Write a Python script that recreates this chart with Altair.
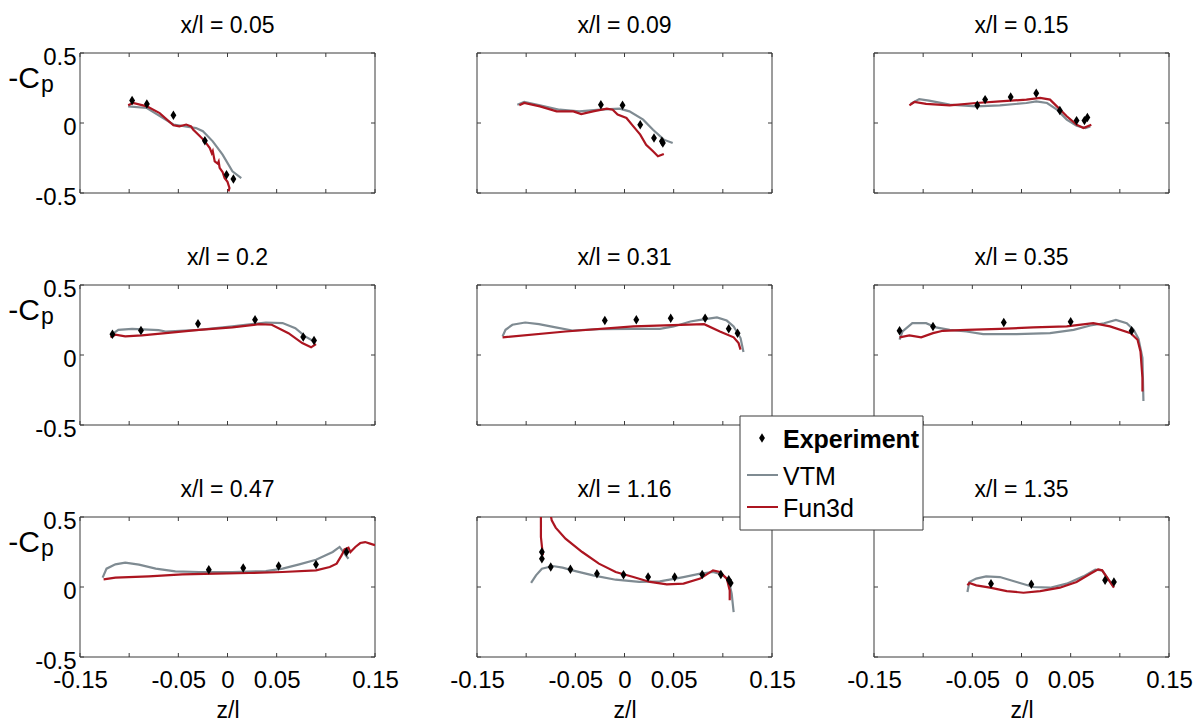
import altair as alt
import pandas as pd

FONT = "Liberation Sans"
RED = "#ac1520"
GREY = "#7f8b92"
FRAME = "#3a3a3a"
W, H = 295, 140

titles = ["x/l = 0.05", "x/l = 0.09", "x/l = 0.15",
          "x/l = 0.2", "x/l = 0.31", "x/l = 0.35",
          "x/l = 0.47", "x/l = 1.16", "x/l = 1.35"]
tick_z = [-0.15, -0.1, -0.05, 0, 0.05, 0.1, 0.15]
tick_cp = [-0.5, 0, 0.5]
legend_labels = ["Experiment", "VTM", "Fun3d"]

# ---- x/l = 0.05
p1_exp_z = [-0.097, -0.082, -0.055, -0.023, -0.001, 0.006]
p1_exp_cp = [0.16, 0.136, 0.055, -0.126, -0.369, -0.40]
p1_vtm_z = [-0.101, -0.082, -0.055, -0.032, -0.025, -0.015, -0.005, 0.005, 0.014]
p1_vtm_cp = [0.119, 0.107, -0.011, -0.036, -0.059, -0.131, -0.226, -0.345, -0.393]
p1_fun_z = [-0.101, -0.096, -0.082, -0.069, -0.055, -0.049, -0.042, -0.037, -0.035, -0.028,
            -0.023, -0.018, -0.016, -0.015, -0.013, -0.010, -0.009, -0.008, -0.005, -0.003,
            0.000, 0.002, 0.001]
p1_fun_cp = [0.126, 0.143, 0.119, 0.071, -0.016, -0.024, -0.011, -0.024, -0.047, -0.095,
             -0.131, -0.179, -0.215, -0.200, -0.274, -0.290, -0.275, -0.321, -0.350, -0.393,
             -0.420, -0.464, -0.488]

# ---- x/l = 0.09
p2_exp_z = [-0.024, -0.002, 0.016, 0.030, 0.038, 0.039]
p2_exp_cp = [0.131, 0.126, -0.012, -0.107, -0.131, -0.143]
p2_vtm_z = [-0.109, -0.102, -0.086, -0.066, -0.046, -0.025, -0.005, 0.005, 0.019, 0.029, 0.040, 0.049]
p2_vtm_cp = [0.131, 0.150, 0.126, 0.095, 0.083, 0.095, 0.102, 0.083, 0.024, -0.048, -0.119, -0.143]
p2_fun_z = [-0.107, -0.102, -0.086, -0.069, -0.052, -0.044, -0.032, -0.018, -0.012, -0.007,
            0.002, 0.009, 0.016, 0.022, 0.029, 0.034, 0.040]
p2_fun_cp = [0.126, 0.143, 0.119, 0.083, 0.083, 0.064, 0.083, 0.102, 0.095, 0.060,
             0.036, -0.024, -0.083, -0.155, -0.202, -0.238, -0.221]

# ---- x/l = 0.15
p3_exp_z = [-0.045, -0.037, -0.011, 0.015, 0.039, 0.056, 0.064, 0.067]
p3_exp_cp = [0.126, 0.167, 0.186, 0.212, 0.090, 0.017, 0.017, 0.040]
p3_vtm_z = [-0.113, -0.104, -0.094, -0.073, -0.046, -0.022, 0.005, 0.015, 0.026, 0.036, 0.046, 0.056, 0.065, 0.070]
p3_vtm_cp = [0.136, 0.171, 0.160, 0.131, 0.119, 0.126, 0.143, 0.155, 0.143, 0.095, 0.024, -0.019, -0.036, -0.024]
p3_fun_z = [-0.114, -0.109, -0.097, -0.073, -0.046, -0.022, 0.005, 0.019, 0.029, 0.036, 0.046, 0.056, 0.063, 0.071]
p3_fun_cp = [0.126, 0.150, 0.136, 0.126, 0.143, 0.155, 0.167, 0.179, 0.167, 0.119, 0.048, -0.012, -0.036, -0.012]

# ---- x/l = 0.2
p4_exp_z = [-0.117, -0.088, -0.030, 0.028, 0.077, 0.088]
p4_exp_cp = [0.149, 0.175, 0.223, 0.251, 0.128, 0.104]
p4_vtm_z = [-0.119, -0.111, -0.097, -0.070, -0.063, -0.029, 0.005, 0.039, 0.056, 0.069, 0.079, 0.088]
p4_vtm_cp = [0.140, 0.180, 0.187, 0.178, 0.168, 0.180, 0.204, 0.232, 0.228, 0.192, 0.133, 0.097]
p4_fun_z = [-0.119, -0.114, -0.104, -0.087, -0.063, -0.029, 0.005, 0.032, 0.045, 0.062, 0.076, 0.085, 0.090]
p4_fun_cp = [0.126, 0.145, 0.133, 0.140, 0.156, 0.180, 0.197, 0.220, 0.216, 0.156, 0.085, 0.055, 0.078]

# ---- x/l = 0.31
p5_exp_z = [-0.020, 0.012, 0.047, 0.082, 0.106, 0.115]
p5_exp_cp = [0.246, 0.251, 0.263, 0.263, 0.187, 0.156]
p5_vtm_z = [-0.124, -0.121, -0.114, -0.101, -0.087, -0.070, -0.053, -0.026, 0.009, 0.036, 0.050,
            0.067, 0.077, 0.094, 0.104, 0.111, 0.118, 0.121]
p5_vtm_cp = [0.133, 0.180, 0.216, 0.232, 0.220, 0.197, 0.175, 0.185, 0.187, 0.187, 0.204,
             0.239, 0.251, 0.268, 0.246, 0.204, 0.121, 0.021]
p5_fun_z = [-0.124, -0.060, 0.009, 0.081, 0.097, 0.111, 0.116, 0.118]
p5_fun_cp = [0.126, 0.168, 0.204, 0.220, 0.168, 0.126, 0.085, 0.038]

# ---- x/l = 0.35
p6_exp_z = [-0.124, -0.090, -0.018, 0.050, 0.112]
p6_exp_cp = [0.173, 0.204, 0.232, 0.237, 0.173]
p6_vtm_z = [-0.124, -0.121, -0.111, -0.097, -0.087, -0.073, -0.056, -0.039, -0.005, 0.029, 0.053,
            0.070, 0.084, 0.096, 0.107, 0.114, 0.119, 0.123, 0.124]
p6_vtm_cp = [0.109, 0.168, 0.227, 0.227, 0.197, 0.180, 0.168, 0.149, 0.149, 0.156, 0.180,
             0.211, 0.227, 0.251, 0.227, 0.180, 0.116, -0.021, -0.329]
p6_fun_z = [-0.124, -0.114, -0.102, -0.090, -0.080, -0.056, -0.022, 0.012, 0.046, 0.073, 0.090,
            0.111, 0.118, 0.121, 0.123, 0.123]
p6_fun_cp = [0.126, 0.140, 0.126, 0.156, 0.173, 0.180, 0.187, 0.197, 0.204, 0.227, 0.204,
             0.156, 0.109, 0.026, -0.164, -0.26]

# ---- x/l = 0.47
p7_exp_z = [-0.019, 0.016, 0.052, 0.090, 0.121]
p7_exp_cp = [0.124, 0.136, 0.150, 0.160, 0.25]
p7_vtm_z = [-0.127, -0.123, -0.114, -0.104, -0.090, -0.073, -0.053, -0.029, 0.005, 0.039, 0.056,
            0.073, 0.090, 0.107, 0.114, 0.119, 0.123]
p7_vtm_cp = [0.067, 0.131, 0.162, 0.174, 0.160, 0.131, 0.112, 0.107, 0.107, 0.114, 0.131,
             0.162, 0.195, 0.25, 0.286, 0.238, 0.202]
p7_fun_z = [-0.126, -0.114, -0.080, -0.046, -0.012, 0.022, 0.056, 0.090, 0.104, 0.111, 0.116,
            0.119, 0.123, 0.125, 0.130, 0.135, 0.140, 0.145, 0.150]
p7_fun_cp = [0.055, 0.067, 0.076, 0.090, 0.095, 0.100, 0.107, 0.119, 0.143, 0.167, 0.226,
             0.269, 0.281, 0.250, 0.286, 0.314, 0.321, 0.310, 0.298]

# ---- x/l = 1.16
p8_exp_z = [-0.084, -0.084, -0.075, -0.055, -0.028, -0.001, 0.024, 0.051, 0.079, 0.098, 0.106, 0.108]
p8_exp_cp = [0.25, 0.202, 0.143, 0.126, 0.095, 0.088, 0.071, 0.071, 0.090, 0.090, 0.052, 0.029]
p8_vtm_z = [-0.095, -0.090, -0.084, -0.073, -0.063, -0.053, -0.032, -0.009, 0.015, 0.036, 0.060,
            0.077, 0.090, 0.099, 0.106, 0.109, 0.111]
p8_vtm_cp = [0.029, 0.083, 0.131, 0.150, 0.138, 0.119, 0.083, 0.052, 0.036, 0.040, 0.071,
             0.095, 0.107, 0.090, 0.048, -0.048, -0.179]
p8_fun_z = [-0.083, -0.085, -0.085, -0.085, -0.080, -0.076, -0.074, -0.070, -0.060, -0.043, -0.026,
            -0.009, 0.009, 0.026, 0.043, 0.060, 0.077, 0.090, 0.097, 0.104, 0.107, 0.107]
p8_fun_cp = [0.226, 0.357, 0.524, 0.62, 0.62, 0.548, 0.476, 0.424, 0.345, 0.25, 0.167,
             0.107, 0.071, 0.036, 0.019, 0.024, 0.060, 0.119, 0.107, 0.060, -0.024, -0.095]

# ---- x/l = 1.35
p9_exp_z = [-0.031, 0.010, 0.085, 0.094]
p9_exp_cp = [0.024, 0.019, 0.048, 0.036]
p9_vtm_z = [-0.055, -0.053, -0.046, -0.036, -0.022, -0.005, 0.012, 0.029, 0.046, 0.063, 0.075, 0.082, 0.089, 0.094]
p9_vtm_cp = [-0.036, 0.036, 0.060, 0.076, 0.071, 0.036, 0.0, -0.005, 0.024, 0.076, 0.124, 0.119, 0.048, 0.0]
p9_fun_z = [-0.055, -0.053, -0.046, -0.032, -0.015, 0.002, 0.019, 0.039, 0.056, 0.070, 0.078, 0.082, 0.089, 0.094]
p9_fun_cp = [0.012, 0.029, 0.012, -0.005, -0.029, -0.041, -0.029, -0.005, 0.036, 0.095, 0.126, 0.119, 0.048, -0.005]

panels_data = [
    (p1_exp_z, p1_exp_cp, p1_vtm_z, p1_vtm_cp, p1_fun_z, p1_fun_cp),
    (p2_exp_z, p2_exp_cp, p2_vtm_z, p2_vtm_cp, p2_fun_z, p2_fun_cp),
    (p3_exp_z, p3_exp_cp, p3_vtm_z, p3_vtm_cp, p3_fun_z, p3_fun_cp),
    (p4_exp_z, p4_exp_cp, p4_vtm_z, p4_vtm_cp, p4_fun_z, p4_fun_cp),
    (p5_exp_z, p5_exp_cp, p5_vtm_z, p5_vtm_cp, p5_fun_z, p5_fun_cp),
    (p6_exp_z, p6_exp_cp, p6_vtm_z, p6_vtm_cp, p6_fun_z, p6_fun_cp),
    (p7_exp_z, p7_exp_cp, p7_vtm_z, p7_vtm_cp, p7_fun_z, p7_fun_cp),
    (p8_exp_z, p8_exp_cp, p8_vtm_z, p8_vtm_cp, p8_fun_z, p8_fun_cp),
    (p9_exp_z, p9_exp_cp, p9_vtm_z, p9_vtm_cp, p9_fun_z, p9_fun_cp),
]

DIAMOND = "M0,-1L0.62,0L0,1L-0.62,0Z"
ONE = pd.DataFrame({"a": [0]})


def df(z, cp):
    return pd.DataFrame({"z": z, "cp": cp, "i": list(range(len(z)))})


def panel(k):
    row, col = divmod(k, 3)
    ez, ecp, vz, vcp, fz, fcp = panels_data[k]
    xs = alt.Scale(domain=[-0.15, 0.15], nice=False, zero=False)
    ys = alt.Scale(domain=[-0.5, 0.5], nice=False, zero=False)
    if row == 2:
        xaxis = alt.Axis(
            values=tick_z, ticks=False, domain=False, grid=False,
            labelExpr="abs(datum.value) > 0.09 && abs(datum.value) < 0.11 ? '' : "
                      "(datum.value < -0.001 ? '-' : '') + format(abs(datum.value), '.2~f')",
            labelFontSize=24, labelFont=FONT, labelColor="black", labelPadding=11,
            labelFlush=False, labelOverlap=False, labelBound=False,
            title="z/l", titleFontSize=23, titleFont=FONT, titleFontWeight="normal",
            titleColor="black", titlePadding=7)
    else:
        xaxis = None
    if col == 0:
        yaxis = alt.Axis(
            values=tick_cp, ticks=False, domain=False, grid=False,
            labelExpr="(datum.value < -0.001 ? '-' : '') + format(abs(datum.value), '.1~f')",
            labelFontSize=24, labelFont=FONT, labelColor="black", labelPadding=4,
            labelFlush=False, labelOverlap=False, labelBound=False, labelOffset=4,
            title=None)
    else:
        yaxis = None

    def X(f="z"):
        return alt.X(f"{f}:Q", scale=xs, axis=xaxis)

    def Y(f="cp"):
        return alt.Y(f"{f}:Q", scale=ys, axis=yaxis)

    frame = alt.Chart(ONE).mark_rect(fillOpacity=0, stroke=FRAME, strokeWidth=1).encode(
        x=alt.value(0), x2=alt.value(W), y=alt.value(0), y2=alt.value(H))
    tz = pd.DataFrame({"z": tick_z})
    tc = pd.DataFrame({"cp": tick_cp})
    xt_bot = alt.Chart(tz).mark_rule(color=FRAME, strokeWidth=1).encode(
        x=X(), y=alt.value(H), y2=alt.value(H - 4))
    xt_top = alt.Chart(tz).mark_rule(color=FRAME, strokeWidth=1).encode(
        x=X(), y=alt.value(0), y2=alt.value(4))
    yt_l = alt.Chart(tc).mark_rule(color=FRAME, strokeWidth=1).encode(
        y=Y(), x=alt.value(0), x2=alt.value(4))
    yt_r = alt.Chart(tc).mark_rule(color=FRAME, strokeWidth=1).encode(
        y=Y(), x=alt.value(W), x2=alt.value(W - 4))

    vtm = alt.Chart(df(vz, vcp)).mark_line(color=GREY, strokeWidth=2.2, clip=True).encode(
        x=X(), y=Y(), order="i:Q")
    fun = alt.Chart(df(fz, fcp)).mark_line(color=RED, strokeWidth=2.2, clip=True).encode(
        x=X(), y=Y(), order="i:Q")
    exp = alt.Chart(df(ez, ecp)).mark_point(
        shape=DIAMOND, filled=True, color="black", size=90, opacity=1, clip=True).encode(
        x=X(), y=Y())

    title = alt.Chart(ONE).mark_text(
        text=titles[k], fontSize=23, font=FONT, align="center", baseline="alphabetic",
        color="black").encode(x=alt.value(W / 2), y=alt.value(-20))

    layers = [frame, xt_bot, xt_top, yt_l, yt_r, vtm, fun, exp, title]

    if col == 0:
        layers.append(alt.Chart(ONE).mark_text(
            text="-C", fontSize=30, font=FONT, align="right", baseline="alphabetic",
            color="black").encode(x=alt.value(-40), y=alt.value(35)))
        layers.append(alt.Chart(ONE).mark_text(
            text="p", fontSize=23, font=FONT, align="left", baseline="alphabetic",
            color="black").encode(x=alt.value(-39), y=alt.value(39)))

    if k == 8:
        layers.append(alt.Chart(ONE).mark_rect(fill="white", stroke=FRAME, strokeWidth=1).encode(
            x=alt.value(-134), x2=alt.value(49), y=alt.value(-101), y2=alt.value(13)))
        layers.append(alt.Chart(ONE).mark_point(
            shape=DIAMOND, filled=True, color="black", size=90, opacity=1).encode(
            x=alt.value(-112), y=alt.value(-79)))
        layers.append(alt.Chart(ONE).mark_rule(color=GREY, strokeWidth=2).encode(
            x=alt.value(-127), x2=alt.value(-96), y=alt.value(-42)))
        layers.append(alt.Chart(ONE).mark_rule(color=RED, strokeWidth=2).encode(
            x=alt.value(-127), x2=alt.value(-96), y=alt.value(-10)))
        for lab, yy, wt in [(legend_labels[0], -77, "bold"),
                            (legend_labels[1], -40, "normal"),
                            (legend_labels[2], -8, "normal")]:
            layers.append(alt.Chart(ONE).mark_text(
                text=lab, fontSize=25, font=FONT, fontWeight=wt, align="left",
                baseline="middle", color="black").encode(x=alt.value(-91), y=alt.value(yy)))

    return alt.layer(*layers).properties(width=W, height=H)


chart = alt.concat(*[panel(k) for k in range(9)], columns=3,
                   spacing={"row": 92, "column": 102}, bounds="flush")
chart = chart.configure(font=FONT, padding={"left": 0, "top": 7, "right": 0, "bottom": 0}) \
    .configure_view(stroke=None)

chart.save("out.html", embed_options={"renderer": "svg", "actions": False})
